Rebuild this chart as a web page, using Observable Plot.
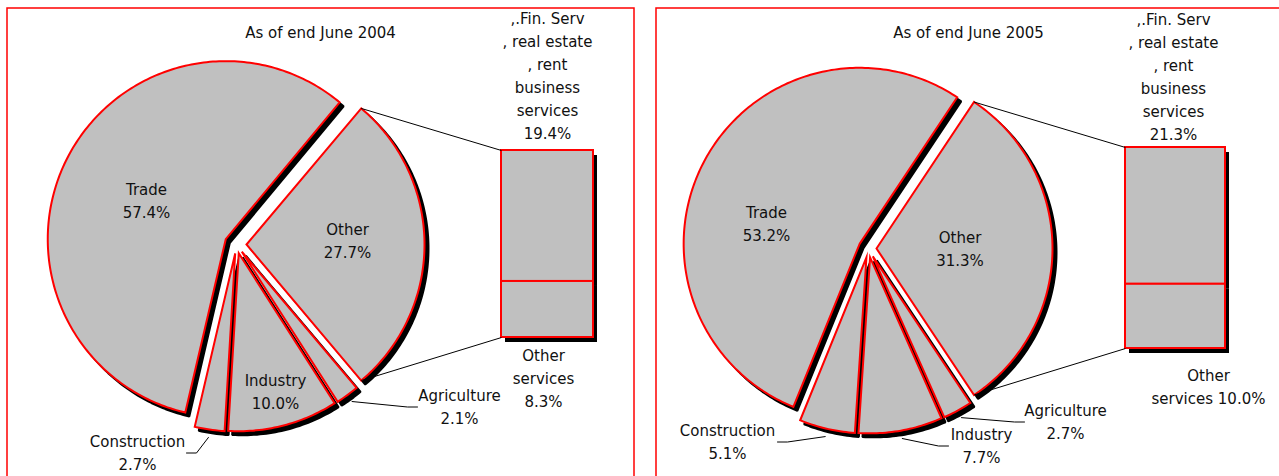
<!DOCTYPE html>
<html><head><meta charset="utf-8">
<script src="https://cdn.jsdelivr.net/npm/d3@7"></script>
<script src="https://cdn.jsdelivr.net/npm/@observablehq/plot@0.6"></script>
<style>html,body{margin:0;padding:0;background:#fff;overflow:hidden}</style>
</head><body><div id="chart"></div>
<script>
// ---------- data ----------
const categories = ["Other", "Agriculture", "Industry", "Construction", "Trade"];
const titles = ["As of end June 2004", "As of end June 2005"];
const values2004 = [27.7, 2.1, 10.0, 2.7, 57.4];
const values2005 = [31.3, 2.7, 7.7, 5.1, 53.2];
const otherParts = [",.Fin. Serv\n, real estate\n, rent\nbusiness\nservices", "Other\nservices"];
const otherValues2004 = [19.4, 8.3];
const otherValues2005 = [21.3, 10.0];

// ---------- layout ----------
const W = 1279, H = 476;
const panels = [
  {values: values2004, sub: otherValues2004, title: titles[0],
   frame: [7, 8, 634, 530], cx: 236, cy: 244, r: 178,
   explode: {Other: 10, Agriculture: 9, Industry: 9, Construction: 9, Trade: 12},
   bar: [501, 150, 593, 337], titlePos: [320, 32],
   subPos: [[547, 76], [543, 378.5]], subSep: ["\n", "\n"],
   inside: {Trade: [146, 200.5], Other: [347, 240.5], Industry: [275, 391.5]},
   outside: {Agriculture: {x: 459, y: 406.5, end: 417, dir: -1},
             Construction: {x: 137, y: 452.5, end: 186, dir: 1}}},
  {values: values2005, sub: otherValues2005, title: titles[1],
   frame: [656, 8, 1300, 530], cx: 868, cy: 248, r: 176,
   explode: {Other: 8, Agriculture: 9, Industry: 9, Construction: 9, Trade: 10},
   bar: [1125, 147, 1225, 348], titlePos: [968, 32],
   subPos: [[1173, 77], [1208, 387]], subSep: ["\n", " "],
   inside: {Trade: [766, 224], Other: [959.5, 248.5]},
   outside: {Construction: {x: 727, y: 441.5, end: 777, dir: 1},
             Industry: {x: 981, y: 445.5, end: 948, dir: -1},
             Agriculture: {x: 1065, y: 421.5, end: 1024, dir: -1}}}
];

const rad = d => d * Math.PI / 180;
const pt = (cx, cy, r, a) => [cx + r * Math.sin(rad(a)), cy - r * Math.cos(rad(a))];

const slicePts = [], frames = [], barRects = [], links = [], leaders = [], texts = [];
panels.forEach((p, pi) => {
  frames.push({x1: p.frame[0], y1: p.frame[1], x2: p.frame[2], y2: p.frame[3]});
  texts.push({x: p.titlePos[0], y: p.titlePos[1], t: p.title});
  let a = 90 - p.values[0] * 3.6 / 2;
  const geo = {};
  p.values.forEach((v, i) => {
    const cat = categories[i];
    const a0 = a, a1 = a + v * 3.6; a = a1;
    const mid = (a0 + a1) / 2;
    const [ax, ay] = pt(p.cx, p.cy, p.explode[cat], mid);
    geo[cat] = {ax, ay, a0, a1, mid};
    const id = pi + "-" + cat;
    slicePts.push({id, x: ax, y: ay});
    const n = Math.max(2, Math.ceil(a1 - a0));
    for (let k = 0; k <= n; k++) {
      const [x, y] = pt(ax, ay, p.r, a0 + (a1 - a0) * k / n);
      slicePts.push({id, x, y});
    }
    const label = cat + "\n" + v.toFixed(1) + "%";
    if (p.inside[cat]) texts.push({x: p.inside[cat][0], y: p.inside[cat][1], t: label});
    if (p.outside[cat]) {
      const o = p.outside[cat];
      const [sx, sy] = pt(ax, ay, p.r + 8, mid);
      leaders.push({id: id, x: sx, y: sy}, {id: id, x: o.end + o.dir * 10, y: o.y}, {id: id, x: o.end, y: o.y});
      texts.push({x: o.x, y: o.y, t: label});
    }
  });
  // bar of "Other"
  const [bx1, by1, bx2, by2] = p.bar;
  const total = p.sub.reduce((s, v) => s + v, 0);
  let y = by1;
  p.sub.forEach((v, i) => {
    const h = (by2 - by1) * v / total;
    barRects.push({x1: bx1, x2: bx2, y1: y, y2: y + h});
    texts.push({x: p.subPos[i][0], y: p.subPos[i][1], t: otherParts[i] + p.subSep[i] + v.toFixed(1) + "%"});
    y += h;
  });
  const g = geo.Other;
  const [tx, ty] = pt(g.ax, g.ay, p.r, g.a0);
  const [btx, bty] = pt(g.ax, g.ay, p.r, g.a1);
  links.push({x1: tx, y1: ty, x2: bx1, y2: by1});
  links.push({x1: btx, y1: bty, x2: bx1, y2: by2});
});

const font = "DejaVu Sans";
const chart = Plot.plot({
  width: W, height: H, margin: 0,
  x: {domain: [0, W], range: [0, W], axis: null},
  y: {domain: [0, H], range: [0, H], axis: null},
  style: {background: "#fff", fontFamily: font},
  marks: [
    Plot.rect(frames, {x1: "x1", x2: "x2", y1: "y1", y2: "y2", fill: "none", stroke: "#ff0000", strokeWidth: 1.5}),
    Plot.line(slicePts, {x: "x", y: "y", z: "id", curve: "linear-closed", fill: "#000", stroke: "#000", strokeWidth: 2, dx: 4, dy: 4, strokeLinejoin: "miter"}),
    Plot.line(slicePts, {x: "x", y: "y", z: "id", curve: "linear-closed", fill: "#c0c0c0", stroke: "#ff0000", strokeWidth: 2, strokeLinejoin: "miter", strokeMiterlimit: 10}),
    Plot.rect(barRects, {x1: "x1", x2: "x2", y1: "y1", y2: "y2", fill: "#000", dx: 4, dy: 5}),
    Plot.rect(barRects, {x1: "x1", x2: "x2", y1: "y1", y2: "y2", fill: "#c0c0c0", stroke: "#ff0000", strokeWidth: 2}),
    Plot.link(links, {x1: "x1", y1: "y1", x2: "x2", y2: "y2", stroke: "#000", strokeWidth: 1}),
    Plot.line(leaders, {x: "x", y: "y", z: "id", stroke: "#000", strokeWidth: 1, strokeLinejoin: "miter"}),
    Plot.text(texts, {x: "x", y: "y", text: "t", dy: -2, fontSize: 15, fontFamily: font, lineHeight: 1.53, fill: "#111", textAnchor: "middle", lineAnchor: "middle"})
  ]
});
document.getElementById("chart").appendChild(chart);
</script>
</body></html>
